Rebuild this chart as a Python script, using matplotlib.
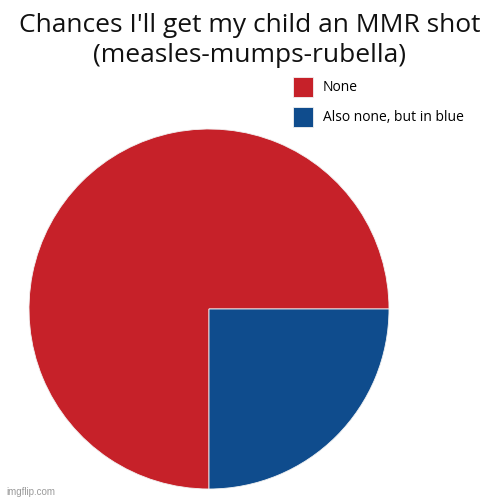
import matplotlib
matplotlib.use("Agg")
import matplotlib.pyplot as plt

title_lines = ["Chances I'll get my child an MMR shot", "(measles-mumps-rubella)"]
labels = ["None", "Also none, but in blue"]
values = [75, 25]
colors = ["#C62129", "#0F4C8D"]

plt.rcParams['font.family'] = ['Open Sans', 'DejaVu Sans']

fig = plt.figure(figsize=(5, 5), dpi=100)
fig.patch.set_facecolor("white")

ax = fig.add_axes([0.058, 0.022, 0.72, 0.72])
wedges, _ = ax.pie(values, colors=colors, startangle=0, counterclock=True,
                   radius=1.0, wedgeprops=dict(linewidth=0.6, edgecolor="#f2f2f2"))
ax.set_xlim(-1, 1)
ax.set_ylim(-1, 1)
ax.set_aspect("equal")
ax.axis("off")

fig.text(0.5, 1 - 32 / 500, title_lines[0], ha="center", va="baseline",
         fontsize=19, color="#111111")
fig.text(0.5, 1 - 62 / 500, title_lines[1], ha="center", va="baseline",
         fontsize=19, color="#111111")

fs = 10
fs_px = fs * 100 / 72
hh = (20 / fs_px - 0.245) / 0.65
fig.legend(wedges, labels, loc="upper left", bbox_to_anchor=(293 / 500, 1 - 77 / 500),
           frameon=False, fontsize=fs, handlelength=20 / fs_px, handleheight=hh,
           handletextpad=10 / fs_px, labelspacing=10 / fs_px, borderaxespad=0, borderpad=0)

fig.text(0.012, 1 - 492 / 500, "imgflip.com", ha="left", va="center",
         fontsize=7, color="#9a9a9a", family=["Liberation Sans", "DejaVu Sans"])

fig.savefig("out.png", dpi=100)
